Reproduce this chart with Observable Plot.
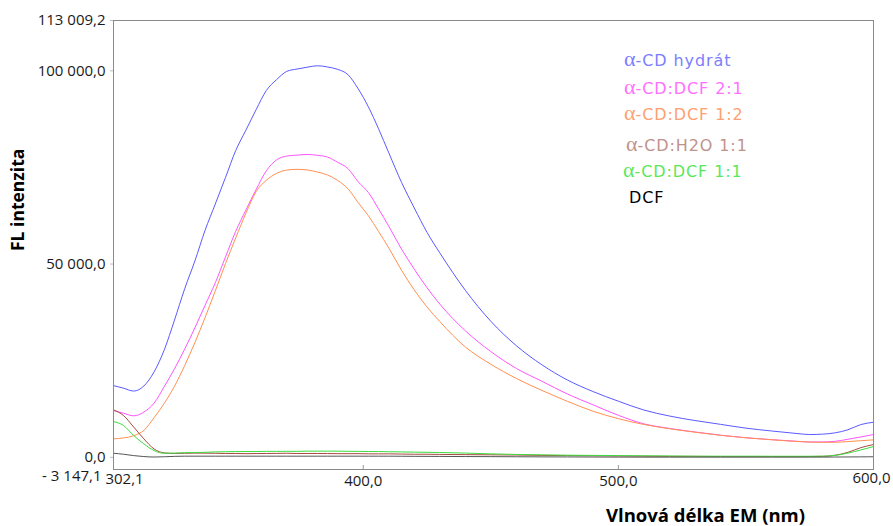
<!DOCTYPE html>
<html><head><meta charset="utf-8">
<script src="https://cdn.jsdelivr.net/npm/d3@7"></script>
<script src="https://cdn.jsdelivr.net/npm/@observablehq/plot@0.6"></script>
<style>
html,body{margin:0;padding:0;background:#fff;}
#wrap{position:relative;width:893px;height:526px;overflow:hidden;}
#legend{position:absolute;left:0;top:0;font-family:"DejaVu Sans";font-size:16px;letter-spacing:0.9px;}
#legend div{position:absolute;white-space:nowrap;line-height:20px;}
#legend .a{font-family:"Liberation Serif";font-size:22px;letter-spacing:0;}
</style></head><body><div id="wrap"><div id="legend"></div></div>
<script>
// ---- data ----
const wavelength = [302.1, 306, 310, 314, 318, 322, 326, 330, 334, 338, 342, 346, 350, 354, 358, 362, 366, 370, 374, 378, 382, 386, 390, 394, 398, 402, 406, 410, 415, 420, 425, 430, 440, 450, 460, 470, 480, 490, 500, 510, 520, 530, 540, 550, 560, 570, 575, 580, 585, 590, 595, 600];
const cdHydrat = [18550, 17900, 17150, 18450, 22100, 27800, 35500, 43600, 50800, 58750, 65530, 72400, 79350, 84640, 89940, 94900, 97690, 99840, 100450, 100920, 101300, 100990, 100360, 99000, 95360, 90670, 84990, 78780, 71140, 64500, 58190, 52900, 43220, 35200, 28880, 23950, 20010, 17030, 14520, 12240, 10690, 9520, 8540, 7550, 6820, 6160, 5900, 6000, 6340, 7140, 8470, 9070];
const cdDcf21 = [12090, 11420, 10740, 11700, 14030, 18310, 22900, 27990, 33510, 39350, 45150, 51840, 58470, 63970, 69280, 74120, 76940, 77940, 78180, 78350, 78130, 77680, 76320, 74700, 71280, 68520, 64270, 59780, 53870, 48670, 43880, 39650, 32740, 27360, 23000, 19690, 16390, 13600, 10870, 8660, 7490, 6560, 5730, 5070, 4570, 4150, 3960, 3980, 4140, 4680, 5270, 5890];
const cdDcf12 = [4780, 5020, 5600, 6960, 10260, 13970, 18390, 23730, 29690, 36170, 43050, 50110, 56750, 63160, 68750, 71670, 73450, 74310, 74500, 74350, 73800, 73050, 71620, 69490, 65900, 62500, 58430, 54180, 48390, 43300, 38880, 35130, 28560, 24080, 20410, 17320, 14500, 11940, 10000, 8500, 7400, 6500, 5700, 5050, 4550, 4100, 3950, 3880, 3900, 4080, 4300, 4520];
const cdH2o11 = [12270, 10840, 7850, 4780, 2170, 1150, 1000, 1050, 1100, 1080, 1050, 1000, 1000, 950, 980, 1000, 1020, 1050, 1000, 1000, 1000, 980, 950, 950, 950, 900, 900, 900, 850, 800, 800, 750, 700, 650, 600, 500, 450, 400, 350, 300, 250, 250, 200, 200, 200, 200, 220, 250, 550, 1300, 2500, 3310];
const cdDcf11 = [9250, 8250, 5650, 3490, 1740, 1060, 1100, 1200, 1250, 1300, 1400, 1450, 1500, 1500, 1500, 1550, 1550, 1550, 1550, 1600, 1600, 1600, 1600, 1550, 1550, 1500, 1500, 1450, 1400, 1350, 1300, 1250, 1100, 900, 750, 650, 550, 500, 450, 400, 350, 300, 300, 300, 280, 280, 280, 300, 500, 1100, 1900, 2790];
const dcf = [1060, 800, 450, 200, 80, 150, 250, 300, 300, 300, 300, 300, 300, 300, 300, 300, 300, 300, 300, 300, 300, 300, 300, 300, 300, 300, 300, 300, 280, 260, 250, 240, 200, 180, 150, 120, 100, 80, 60, 50, 50, 50, 50, 50, 50, 50, 50, 60, 80, 100, 120, 150];

const seriesNames = ["α-CD hydrát", "α-CD:DCF 2:1", "α-CD:DCF 1:2", "α-CD:H2O 1:1", "α-CD:DCF 1:1", "DCF"];
const seriesValues = [cdHydrat, cdDcf21, cdDcf12, cdH2o11, cdDcf11, dcf];

const yTicks = [-3147.1, 0, 50000, 100000, 113009.2];
const yTickLabels = ["- 3 147,1", "0,0", "50 000,0", "100 000,0", "113 009,2"];
const xTicks = [302.1, 400, 500, 600];
const xTickLabels = ["302,1", "400,0", "500,0", "600,0"];
const yTitle = "FL intenzita";
const xTitle = "Vlnová délka EM (nm)";

// ---- styles ----
const lineColors = ["#5a5aff", "#ff55ff", "#ff9050", "#a84a40", "#3ddc3d", "#555555"];
const legendColors = ["#7d7dff", "#ff70ff", "#ffa070", "#c0928c", "#5be85b", "#000000"];
const legendTop = [49, 77, 103, 134, 160, 188];
const legendLeft = [624, 624, 624, 626, 623, 629];

const rows = seriesNames.flatMap((name, i) => wavelength.map((wl, j) => ({wl, fl: seriesValues[i][j], series: name})));
const fmtY = d => yTickLabels[yTicks.indexOf(d)];
const fmtX = d => xTickLabels[xTicks.indexOf(d)];
const blank = () => "";

const plot = Plot.plot({
  width: 893, height: 526,
  marginLeft: 113, marginRight: 20, marginTop: 20, marginBottom: 57,
  style: {fontFamily: "'Open Sans'", fontSize: "15px", color: "#1a1a1a", background: "white"},
  x: {domain: [302.1, 600]},
  y: {domain: [-3147.1, 113009.2]},
  color: {domain: seriesNames, range: lineColors},
  marks: [
    Plot.axisY(yTicks.slice(1), {anchor: "left", tickSize: 3, tickPadding: 5, tickFormat: fmtY, stroke: "#b4bcd0", fill: "#1a1a1a", fontSize: 15, label: null}),
    Plot.axisY(yTicks.slice(0, 1), {anchor: "left", tickSize: 0, tickPadding: 12, dy: 7, tickFormat: fmtY, fill: "#1a1a1a", fontSize: 15, label: null}),
    Plot.axisX(xTicks.slice(1, 3), {anchor: "bottom", tickSize: -4, tickFormat: blank, stroke: "#999", label: null}),
    Plot.axisX(xTicks.slice(1, 3), {anchor: "bottom", tickSize: 0, tickPadding: 6, tickFormat: fmtX, fill: "#1a1a1a", fontSize: 15, label: null}),
    Plot.axisX(xTicks.slice(0, 1), {anchor: "bottom", tickSize: 0, tickPadding: 4, dx: 11, tickFormat: fmtX, fill: "#1a1a1a", fontSize: 15, label: null}),
    Plot.axisX(xTicks.slice(3), {anchor: "bottom", tickSize: 0, tickPadding: 3, dx: -2, tickFormat: fmtX, fill: "#1a1a1a", fontSize: 15, label: null}),
    Plot.line(rows, {x: "wl", y: "fl", z: "series", stroke: "series", strokeWidth: 1, curve: "monotone-x"}),
    Plot.frame({stroke: "#8a8a8a"}),
    Plot.text([yTitle], {text: d => d, frameAnchor: "left", rotate: -90, dx: -95, dy: 6, fontWeight: "bold", fontSize: 17.5, fill: "#000"}),
    Plot.text([xTitle], {text: d => d, frameAnchor: "bottom", dx: 212, dy: 52, fontWeight: "bold", fontSize: 18.5, fill: "#000"})
  ]
});
const wrap = document.getElementById("wrap");
wrap.insertBefore(plot, wrap.firstChild);

const legend = document.getElementById("legend");
seriesNames.forEach((name, i) => {
  const div = document.createElement("div");
  div.style.left = legendLeft[i] + "px";
  div.style.top = legendTop[i] + "px";
  div.style.color = legendColors[i];
  if (name.startsWith("α")) {
    const a = document.createElement("span");
    a.className = "a";
    a.textContent = "α";
    div.appendChild(a);
    div.appendChild(document.createTextNode(name.slice(1)));
  } else {
    div.textContent = name;
  }
  legend.appendChild(div);
});
</script>
</body></html>
